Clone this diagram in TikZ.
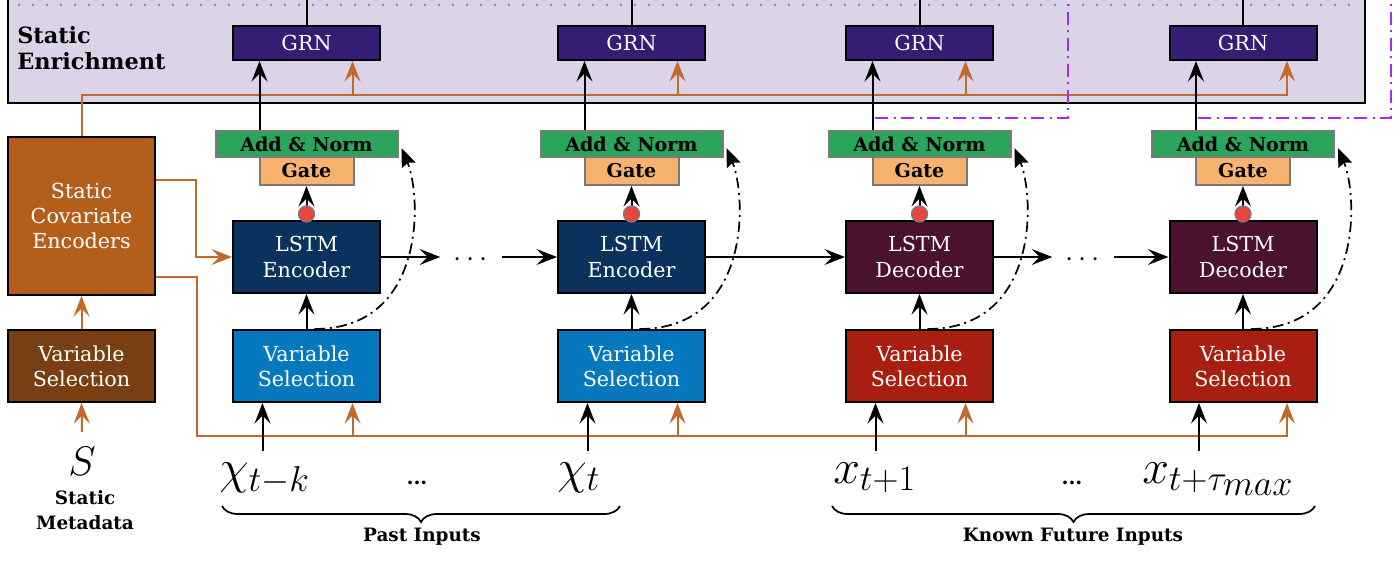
\documentclass[tikz,border=0pt]{standalone}
\usepackage{fix-cm}
\usepackage{fontspec}
\setmainfont{DejaVu Serif}
\usetikzlibrary{arrows.meta,calc,decorations.pathreplacing}
\newcommand{\bigsub}[2]{\hbox{\fontsize{#1}{#1}\selectfont$#2$}}
\definecolor{bandfill}{HTML}{DBD3E8}
\definecolor{grnc}{HTML}{361C72}
\definecolor{addc}{HTML}{2AA55B}
\definecolor{gatec}{HTML}{F7B26E}
\definecolor{encc}{HTML}{0B325C}
\definecolor{decc}{HTML}{4A1131}
\definecolor{vspast}{HTML}{0778BE}
\definecolor{vsfut}{HTML}{A81E10}
\definecolor{vsstat}{HTML}{773F12}
\definecolor{scec}{HTML}{B45E1C}
\definecolor{orc}{HTML}{C26A2B}
\definecolor{dotc}{HTML}{E8453C}
\definecolor{purp}{HTML}{A52CF2}
\definecolor{edgegray}{HTML}{7A7A7A}
\begin{document}
\begin{tikzpicture}[x=0.75pt,y=-0.75pt,
  box/.style={draw=black, line width=1.5pt, text=white, align=center,
    minimum width=110.25pt, minimum height=54pt, inner sep=0pt,
    font=\fontsize{15.5}{19}\selectfont},
  grnbox/.style={box, fill=grnc, minimum height=25.5pt},
  addbox/.style={draw=edgegray, line width=1.5pt, fill=addc, text=black,
    minimum width=136.5pt, minimum height=19.5pt, inner sep=0pt,
    font=\bfseries\fontsize{14.3}{16}\selectfont},
  gatebox/.style={addbox, fill=gatec, minimum width=70.5pt, minimum height=21pt},
  reddot/.style={circle, fill=dotc, draw=edgegray, line width=1pt,
    minimum size=12pt, inner sep=0pt},
  tipst/.style={-{Stealth[length=15.5pt,width=12pt,inset=6pt]}},
  blk/.style={draw=black, line width=1.5pt},
  ora/.style={draw=orc, line width=1.5pt},
  fback/.style={draw=black, line width=1.3pt,
    dash pattern=on 8pt off 3.5pt on 1.5pt off 3.5pt,
    -{Stealth[length=14pt,width=11pt,inset=2pt]}},
  purpd/.style={draw=purp, line width=1.6pt,
    dash pattern=on 10pt off 4pt on 1.5pt off 4pt},
  lab/.style={font=\bfseries\fontsize{13.8}{18.5}\selectfont, align=center, inner sep=0pt},
  inp/.style={font=\fontsize{36}{40}\selectfont, inner sep=0pt, anchor=base west},
  cdots/.style={font=\fontsize{22}{24}\selectfont, inner xsep=10pt, inner ysep=0pt}
]
\useasboundingbox (0,0) rectangle (1396,575);

% static enrichment band
\draw[fill=bandfill, line width=1.5pt] (8,-20) rectangle (1365,103);
\draw[edgegray, line width=1.6pt, line cap=round, dash pattern=on 0pt off 10.5pt] (19,5) -- (1362,5);
\node[anchor=north west, align=left, inner sep=0pt,
  font=\bfseries\fontsize{16.8}{20}\selectfont] (selabel) at (17,26) {Static\\Enrichment};

\coordinate (top) at (0,-10);

% columns
\foreach \i/\c/\lc/\ll/\vc in {1/306.5/encc/Encoder/vspast, 2/631.5/encc/Encoder/vspast,
                               3/919.5/decc/Decoder/vsfut, 4/1243/decc/Decoder/vsfut}{
  \node[grnbox] (grn\i) at (\c,43) {GRN};
  \node[addbox] (an\i) at (\c,144) {Add \& Norm};
  \node[gatebox] (gate\i) at (\c,171) {Gate};
  \node[box, fill=\lc] (lstm\i) at (\c,257) {LSTM\\\ll};
  \node[box, fill=\vc] (vs\i) at (\c,366) {Variable\\Selection};
}

% static side
\node[box, fill=scec, minimum height=118.5pt] (sce) at (81.5,216) {Static\\Covariate\\Encoders};
\node[box, fill=vsstat] (svs) at (81.5,366) {Variable\\Selection};
\node[font=\fontsize{31}{36}\selectfont, inner xsep=2pt, inner ysep=11pt, anchor=base] (s) at (82,475) {$S$};
\node[lab] (sm) at (85,510) {Static\\Metadata};

% orange connectors
\coordinate (orl) at (0,95);
\draw[ora, tipst] (sce.north) -- (sce.north |- orl) -| ($(grn4.south)+(44,0)$);
\foreach \i in {1,2,3}{
  \draw[ora, tipst] ($(grn\i.south)+(46,35)$) -- ($(grn\i.south)+(46,0)$);
  \draw[ora, tipst] ($(vs\i.south)+(46,33)$) -- ($(vs\i.south)+(46,0)$);
}
\draw[ora, tipst] ($(sce.east)+(0,-36)$) -- ++(40,0) |- (lstm1.west);
\draw[ora, tipst] ($(sce.east)+(0,61)$) -- ++(41,0) |- ($(vs4.south)+(44,33)$) -- ($(vs4.south)+(44,0)$);
\draw[ora, tipst] (svs.north) -- (sce.south);
\draw[ora, tipst] (s.north) -- (svs.south);

% purple dash-dot frames
\draw[purpd] (875,118) -- (1068,118) -- (1068,-10);
\draw[purpd] (1198,118) -- (1391,118) -- (1391,-10);

% black connectors per column
\foreach \i in {1,2,3,4}{
  \draw[blk] (grn\i.north) -- (grn\i.north |- top);
  \draw[blk, tipst] ($(an\i.north)+(-47,0)$) -- ($(grn\i.south)+(-47,0)$);
  \draw[blk, tipst] (lstm\i.north) -- (gate\i.south);
  \draw[blk, tipst] (vs\i.north) -- (lstm\i.south);
  \draw[blk, tipst] ($(vs\i.south)+(-44,48)$) -- ($(vs\i.south)+(-44,0)$);
  \draw[fback] ($(vs\i.north)+(8,0)$) .. controls +(112,0) and +(20,48) .. ($(an\i.east)+(3,4)$);
}
\foreach \i/\c in {1/306.5,2/631.5,3/919.5,4/1243}{
  \node[reddot] (dot\i) at (\c,214) {};
}

% recurrent chain
\node[cdots] (dA) at (471,260) {$\cdots$};
\node[cdots] (dB) at (1083,260) {$\cdots$};
\draw[blk, tipst] (lstm1.east) -- (lstm1.east -| dA.west);
\draw[blk, tipst] (lstm2.west -| dA.east) -- (lstm2.west);
\draw[blk, tipst] (lstm2.east) -- (lstm3.west);
\draw[blk, tipst] (lstm3.east) -- (lstm3.east -| dB.west);
\draw[blk, tipst] (lstm4.west -| dB.east) -- (lstm4.west);

% inputs
\node[inp] (in1) at (219,483) {$\chi_{\bigsub{27}{t{-}k}}$};
\node[inp] (in2) at (557,483) {$\chi_{\bigsub{27}{t}}$};
\node[inp] (in3) at (833,483) {$x_{\bigsub{27}{t{+}1}}$};
\node[inp] (in4) at (1142,483) {$x_{\bigsub{27}{t{+}\tau_{\bigsub{27}{max}}}}$};
\node[font=\bfseries\fontsize{15}{18}\selectfont, inner sep=0pt, anchor=base] (e1) at (417,484) {...};
\node[font=\bfseries\fontsize{15}{18}\selectfont, inner sep=0pt, anchor=base] (e2) at (1072,484) {...};

% braces
\coordinate (b1l) at (222,506);
\coordinate (b1r) at (620,506);
\coordinate (b2l) at (832,506);
\coordinate (b2r) at (1315,506);
\draw[line width=1.3pt, decorate, decoration={brace, mirror, amplitude=12pt}] (b1l) -- (b1r);
\draw[line width=1.3pt, decorate, decoration={brace, mirror, amplitude=12pt}] (b2l) -- (b2r);
\node[lab] (pl) at (422,537) {Past Inputs};
\node[lab] (kl) at (1073,537) {Known Future Inputs};
\end{tikzpicture}
\end{document}
